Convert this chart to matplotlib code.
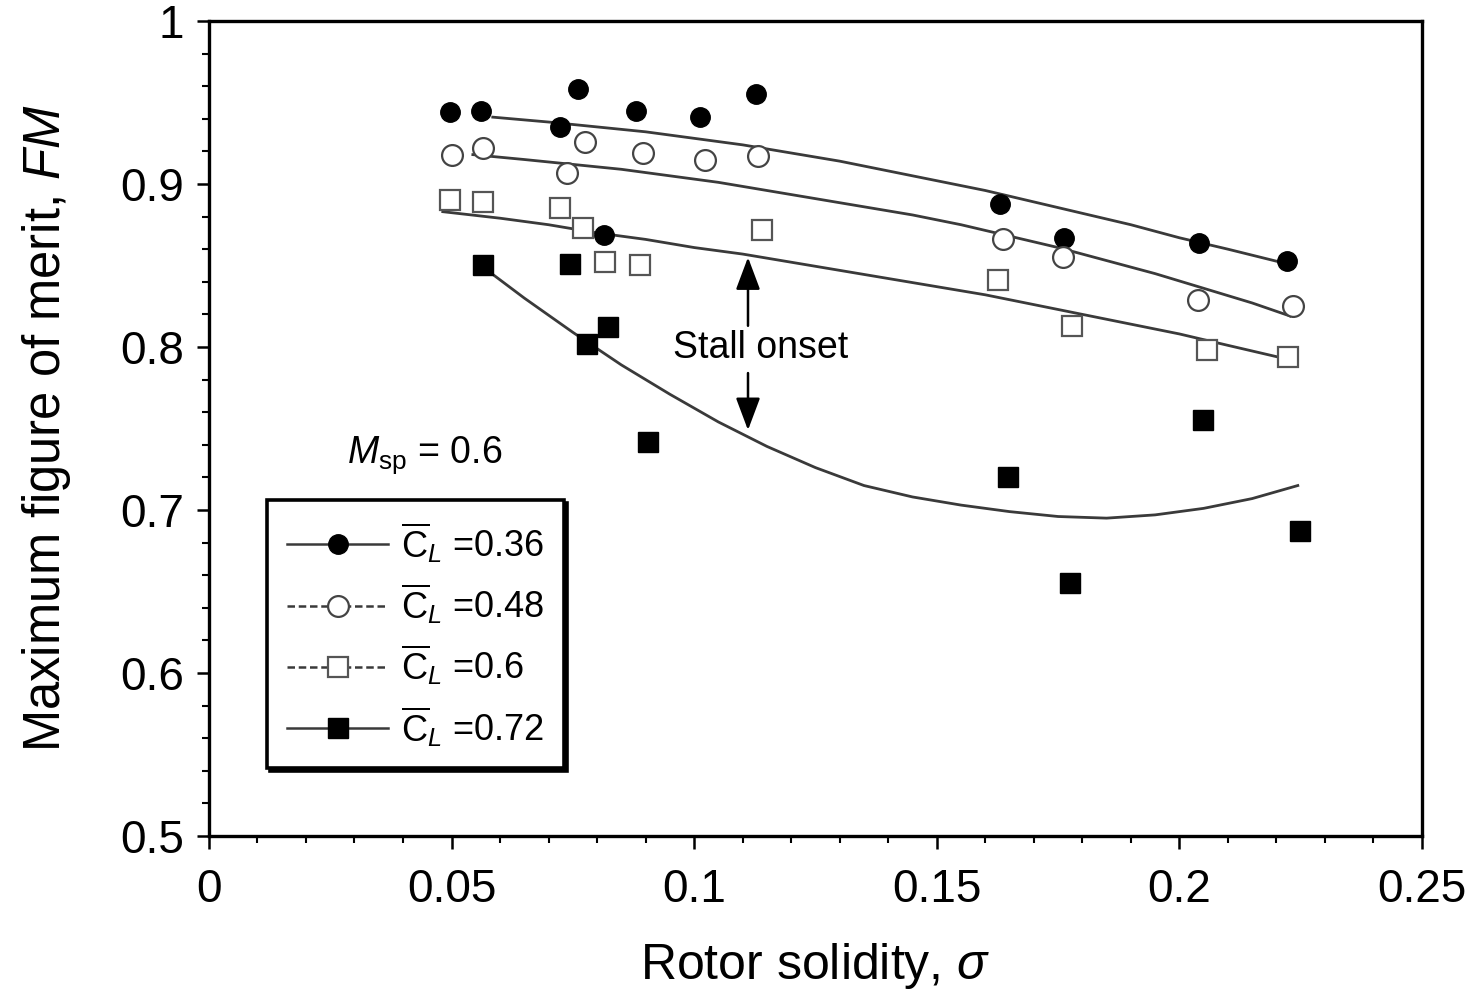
import matplotlib
matplotlib.use("Agg")
import matplotlib.pyplot as plt
from matplotlib.lines import Line2D
from matplotlib.ticker import MultipleLocator, FormatStrFormatter

plt.rcParams['font.family'] = ['Liberation Sans', 'DejaVu Sans']
plt.rcParams['mathtext.fontset'] = 'custom'
plt.rcParams['mathtext.rm'] = 'Liberation Sans'
plt.rcParams['mathtext.it'] = 'Liberation Sans:italic'
plt.rcParams['mathtext.bf'] = 'Liberation Sans:bold'

# measured points, C_L = 0.36 (filled circles)
sig_036 = [0.0497, 0.0561, 0.0723, 0.0760, 0.0815, 0.0880, 0.1012, 0.1127, 0.1630, 0.1762, 0.2040, 0.2222]
fm_036 = [0.944, 0.945, 0.935, 0.958, 0.869, 0.945, 0.941, 0.955, 0.888, 0.867, 0.864, 0.853]

# C_L = 0.48 (open circles)
sig_048 = [0.0501, 0.0565, 0.0738, 0.0775, 0.0894, 0.1022, 0.1131, 0.1636, 0.1760, 0.2038, 0.2234]
fm_048 = [0.918, 0.922, 0.907, 0.926, 0.919, 0.915, 0.917, 0.866, 0.855, 0.829, 0.825]

# C_L = 0.6 (open squares)
sig_060 = [0.0497, 0.0565, 0.0723, 0.0771, 0.0816, 0.0888, 0.1140, 0.1626, 0.1779, 0.2057, 0.2224]
fm_060 = [0.890, 0.889, 0.885, 0.873, 0.852, 0.850, 0.872, 0.841, 0.813, 0.798, 0.794]

# C_L = 0.72 (filled squares)
sig_072 = [0.0565, 0.0744, 0.0779, 0.0822, 0.0905, 0.1647, 0.1775, 0.2049, 0.2249]
fm_072 = [0.850, 0.851, 0.802, 0.812, 0.742, 0.720, 0.655, 0.755, 0.687]

# fitted curves
fit_x_036 = [0.0585, 0.07, 0.08, 0.09, 0.10, 0.11, 0.12, 0.13, 0.14, 0.15, 0.16, 0.17, 0.18, 0.19, 0.20, 0.21, 0.2222]
fit_y_036 = [0.941, 0.938, 0.935, 0.932, 0.928, 0.924, 0.919, 0.914, 0.908, 0.902, 0.896, 0.889, 0.882, 0.875, 0.867, 0.860, 0.851]

fit_x_048 = [0.0544, 0.065, 0.075, 0.085, 0.095, 0.105, 0.115, 0.125, 0.135, 0.145, 0.155, 0.165, 0.175, 0.185, 0.195, 0.205, 0.215, 0.2228]
fit_y_048 = [0.918, 0.915, 0.912, 0.909, 0.905, 0.901, 0.896, 0.891, 0.886, 0.881, 0.875, 0.868, 0.861, 0.853, 0.845, 0.836, 0.827, 0.819]

fit_x_060 = [0.0482, 0.06, 0.07, 0.08, 0.09, 0.10, 0.11, 0.12, 0.13, 0.14, 0.15, 0.16, 0.17, 0.18, 0.19, 0.20, 0.21, 0.2201]
fit_y_060 = [0.883, 0.879, 0.875, 0.870, 0.866, 0.861, 0.857, 0.852, 0.847, 0.842, 0.837, 0.832, 0.826, 0.820, 0.814, 0.808, 0.801, 0.794]

fit_x_072 = [0.0565, 0.065, 0.075, 0.085, 0.095, 0.105, 0.115, 0.125, 0.135, 0.145, 0.155, 0.165, 0.175, 0.185, 0.195, 0.205, 0.215, 0.2244]
fit_y_072 = [0.849, 0.830, 0.809, 0.789, 0.771, 0.754, 0.739, 0.726, 0.715, 0.708, 0.703, 0.699, 0.696, 0.695, 0.697, 0.701, 0.707, 0.715]

labels = [r'$\overline{\mathrm{C}}_{L}$ =0.36$\qquad$', r'$\overline{\mathrm{C}}_{L}$ =0.48$\qquad$',
          r'$\overline{\mathrm{C}}_{L}$ =0.6$\qquad$', r'$\overline{\mathrm{C}}_{L}$ =0.72$\qquad$']

line_col = '#3a3a3a'

fig = plt.figure(figsize=(14.71, 9.89), dpi=100)
ax = fig.add_axes([0.142, 0.1547, 0.8247, 0.8241])

# curves
ax.plot(fit_x_036, fit_y_036, color=line_col, lw=2)
ax.plot(fit_x_048, fit_y_048, color=line_col, lw=2)
ax.plot(fit_x_060, fit_y_060, color=line_col, lw=2)
ax.plot(fit_x_072, fit_y_072, color=line_col, lw=2)

# points
ax.plot(sig_036, fm_036, 'o', ms=14, color='black')
ax.plot(sig_048, fm_048, 'o', ms=15, mfc='white', mec='#444444', mew=1.6)
ax.plot(sig_060, fm_060, 's', ms=15, mfc='white', mec='#555555', mew=1.6)
ax.plot(sig_072, fm_072, 's', ms=14, color='black')

# stall onset arrows
arrow = dict(arrowstyle='-|>,head_length=0.8,head_width=0.3', color='black',
             lw=1.8, mutation_scale=25, shrinkA=0, shrinkB=0)
ax.annotate('', xy=(0.1111, 0.855), xytext=(0.1111, 0.813), arrowprops=arrow)
ax.annotate('', xy=(0.1111, 0.749), xytext=(0.1111, 0.784), arrowprops=arrow)
ax.text(0.1136, 0.7994, 'Stall onset', fontsize=27, ha='center', va='center')

ax.text(0.0445, 0.7337, r'$M_{\mathrm{sp}}$ = 0.6', fontsize=27, ha='center', va='center')

# legend
handles = [
    Line2D([], [], color=line_col, lw=1.8, marker='o', ms=14, mfc='black', mec='black'),
    Line2D([], [], color=line_col, lw=1.8, ls=(0, (3, 1.5)), marker='o', ms=15,
           mfc='white', mec='#444444', mew=1.6),
    Line2D([], [], color=line_col, lw=1.8, ls=(0, (3, 1.5)), marker='s', ms=15,
           mfc='white', mec='#555555', mew=1.6),
    Line2D([], [], color=line_col, lw=1.8, marker='s', ms=14, mfc='black', mec='black'),
]
leg = ax.legend(handles, labels, loc='upper left', bbox_to_anchor=(0.048, 0.412),
                borderaxespad=0, fontsize=26, handlelength=2.8, handletextpad=0.35,
                labelspacing=0.45, borderpad=0.55, fancybox=False, frameon=True,
                shadow={'color': 'black', 'alpha': 1.0})
leg.get_frame().set_edgecolor('black')
leg.get_frame().set_linewidth(2.6)

ax.set_xlim(0, 0.25)
ax.set_ylim(0.5, 1.0)
ax.xaxis.set_major_locator(MultipleLocator(0.05))
ax.xaxis.set_minor_locator(MultipleLocator(0.01))
ax.yaxis.set_major_locator(MultipleLocator(0.1))
ax.yaxis.set_minor_locator(MultipleLocator(0.02))
ax.xaxis.set_major_formatter(FormatStrFormatter('%g'))
ax.yaxis.set_major_formatter(FormatStrFormatter('%g'))

ax.tick_params(which='major', direction='out', length=9, width=1.8, labelsize=33)
ax.tick_params(axis='x', which='major', pad=14)
ax.tick_params(axis='y', which='major', pad=9)
ax.tick_params(which='minor', direction='out', length=5, width=1.5)
for s in ax.spines.values():
    s.set_linewidth(2.4)

ax.set_xlabel(r'Rotor solidity, $\sigma$', fontsize=36, labelpad=21)
ax.set_ylabel(r'Maximum figure of merit, $FM$', fontsize=36.5, labelpad=34)

fig.savefig('out.png', dpi=100)
